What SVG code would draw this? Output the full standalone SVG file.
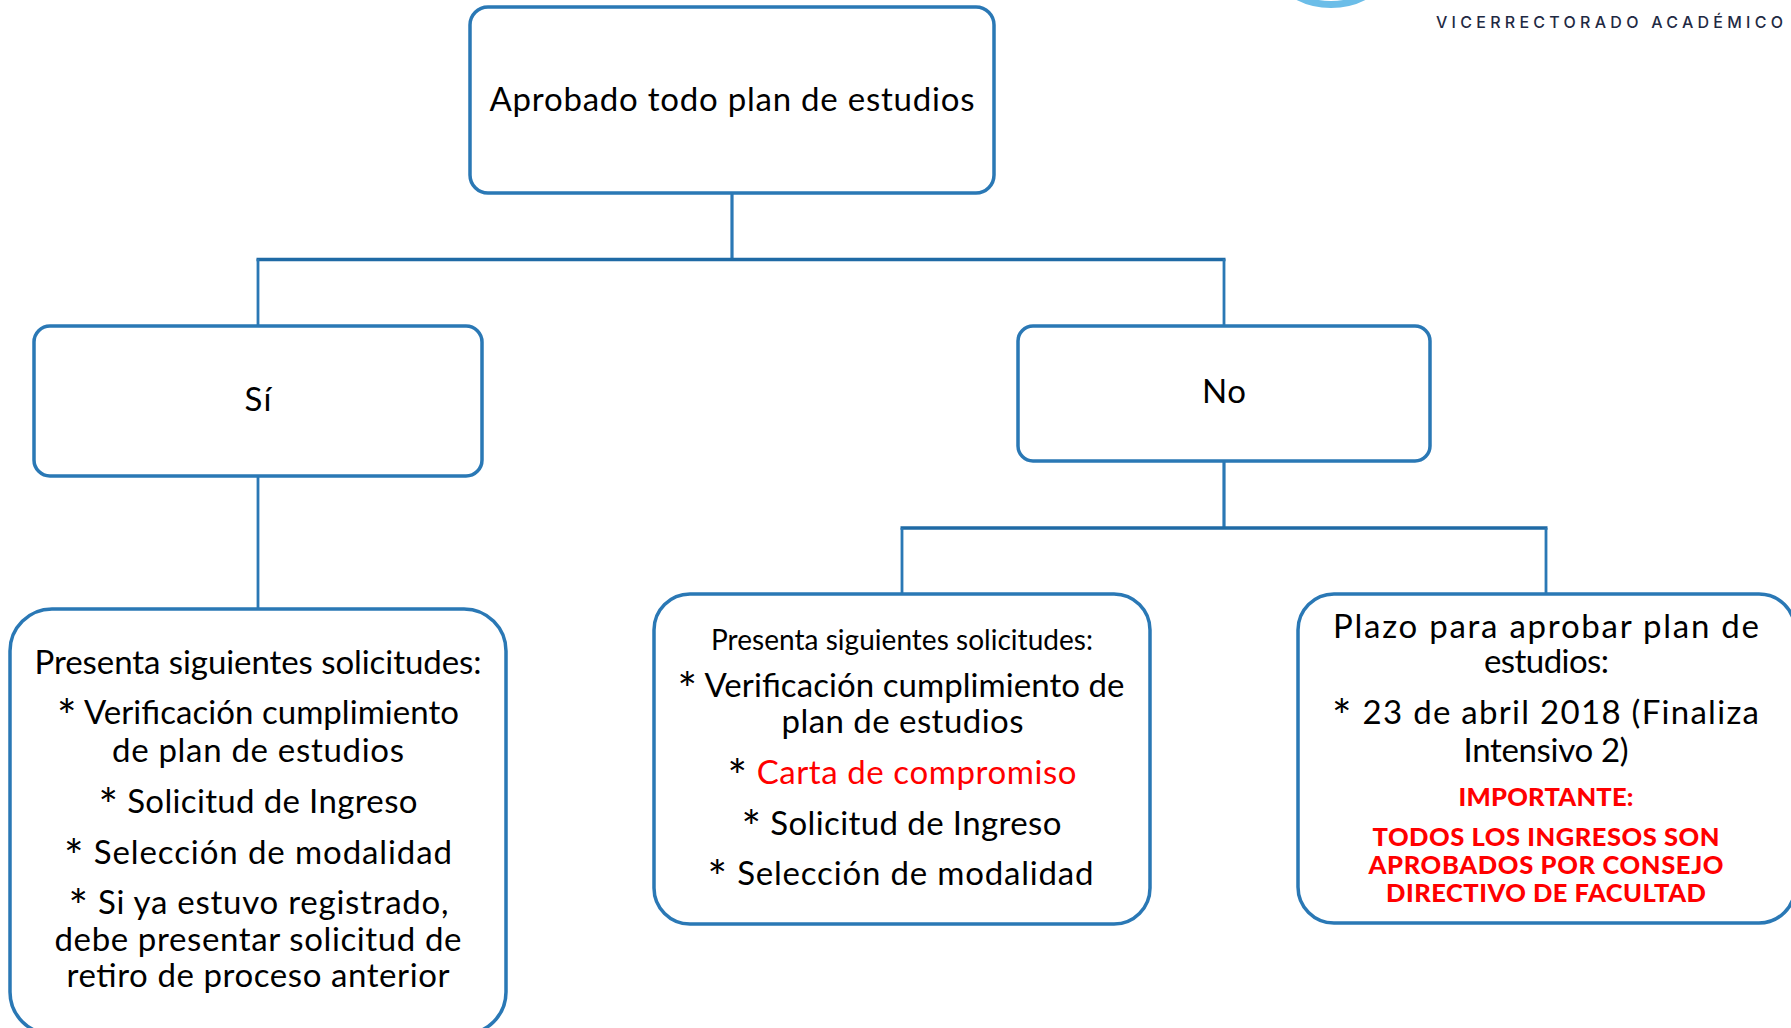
<svg xmlns="http://www.w3.org/2000/svg" width="1791" height="1028" viewBox="0 0 1791 1028">
<style>
.b{fill:#fff;stroke:#2A78B5;stroke-width:3.5}
.c{fill:none;stroke:#2A78B5;stroke-width:3.2}
.d{fill:none;stroke:#2A78B5;stroke-width:2.8}
.h{fill:none;stroke:#1F6AA5;stroke-width:3.5}
text{font-family:"Lato","Open Sans","Liberation Sans",sans-serif;fill:#000;text-anchor:middle;font-size:33px}
.sm{font-size:28px}
.r{font-weight:900;fill:#f00;font-size:25.500px}
.red{fill:#f00}
.a{font-size:46px}
.v{font-family:"Inter","Liberation Sans",sans-serif;font-size:16px;font-weight:500;fill:#1F2A44}
</style>
<rect width="1791" height="1028" fill="#fff"/>
<g id="logo">
<circle cx="1331" cy="-68" r="72.500" fill="none" stroke="#6BBDE8" stroke-width="7"/>
<text class="v" x="1609.5" y="28" textLength="347" lengthAdjust="spacing">VICERRECTORADO ACADÉMICO</text>
</g>
<g id="connectors">
<path class="c" d="M732 193V259"/>
<path class="h" d="M256.500 259.500H1225.500"/>
<path class="d" d="M258 259V326"/>
<path class="d" d="M1224 259V326"/>
<path class="d" d="M258 476V609"/>
<path class="c" d="M1224 461V528"/>
<path class="h" d="M900.500 528H1547.500"/>
<path class="d" d="M902 528V594"/>
<path class="d" d="M1546 528V594"/>
</g>
<g id="n-aprobado">
<rect class="b" x="470" y="7" width="524" height="186" rx="18"/>
<text x="732" y="111" textLength="485">Aprobado todo plan de estudios</text>
</g>
<g id="n-si">
<rect class="b" x="34" y="326" width="448" height="150" rx="16"/>
<text x="258" y="411" textLength="27">Sí</text>
</g>
<g id="n-no">
<rect class="b" x="1018" y="326" width="412" height="135" rx="15"/>
<text x="1224" y="403" textLength="44">No</text>
</g>
<g id="n-si-sol">
<rect class="b" x="10" y="609" width="496" height="425" rx="42"/>
<text x="258" y="674" textLength="447">Presenta siguientes solicitudes:</text>
<text x="258" y="724" textLength="402"><tspan class="a" dy="9">*</tspan><tspan dy="-9"> Verificación cumplimiento</tspan></text>
<text x="258" y="762" textLength="292">de plan de estudios</text>
<text x="258" y="813" textLength="319"><tspan class="a" dy="9">*</tspan><tspan dy="-9"> Solicitud de Ingreso</tspan></text>
<text x="258" y="864" textLength="388"><tspan class="a" dy="9">*</tspan><tspan dy="-9"> Selección de modalidad</tspan></text>
<text x="258.500" y="914" textLength="380"><tspan class="a" dy="9">*</tspan><tspan dy="-9"> Si ya estuvo registrado,</tspan></text>
<text x="258" y="951" textLength="407">debe presentar solicitud de</text>
<text x="258" y="987" textLength="383">retiro de proceso anterior</text>
</g>
<g id="n-no-sol">
<rect class="b" x="654" y="594" width="496" height="330" rx="36"/>
<text class="sm" x="902" y="650" textLength="382">Presenta siguientes solicitudes:</text>
<text x="901" y="697" textLength="447"><tspan class="a" dy="9">*</tspan><tspan dy="-9"> Verificación cumplimiento de</tspan></text>
<text x="902.500" y="733" textLength="242">plan de estudios</text>
<text x="902" y="784" textLength="349"><tspan class="a" dy="9">*</tspan><tspan class="red" dy="-9"> Carta de compromiso</tspan></text>
<text x="901.500" y="835" textLength="320"><tspan class="a" dy="9">*</tspan><tspan dy="-9"> Solicitud de Ingreso</tspan></text>
<text x="900.500" y="885" textLength="386"><tspan class="a" dy="9">*</tspan><tspan dy="-9"> Selección de modalidad</tspan></text>
</g>
<g id="n-plazo">
<rect class="b" x="1298" y="594" width="497" height="329" rx="36"/>
<text x="1546" y="638" textLength="426">Plazo para aprobar plan de</text>
<text x="1546.500" y="673" textLength="125">estudios:</text>
<text x="1545.500" y="724" textLength="427"><tspan class="a" dy="9">*</tspan><tspan dy="-9"> 23 de abril 2018 (Finaliza</tspan></text>
<text x="1546" y="762" textLength="165">Intensivo 2)</text>
<text class="r" x="1546" y="806" textLength="175">IMPORTANTE:</text>
<text class="r" x="1546" y="846" textLength="347">TODOS LOS INGRESOS SON</text>
<text class="r" x="1546" y="874" textLength="355">APROBADOS POR CONSEJO</text>
<text class="r" x="1546" y="902" textLength="320">DIRECTIVO DE FACULTAD</text>
</g>
</svg>
